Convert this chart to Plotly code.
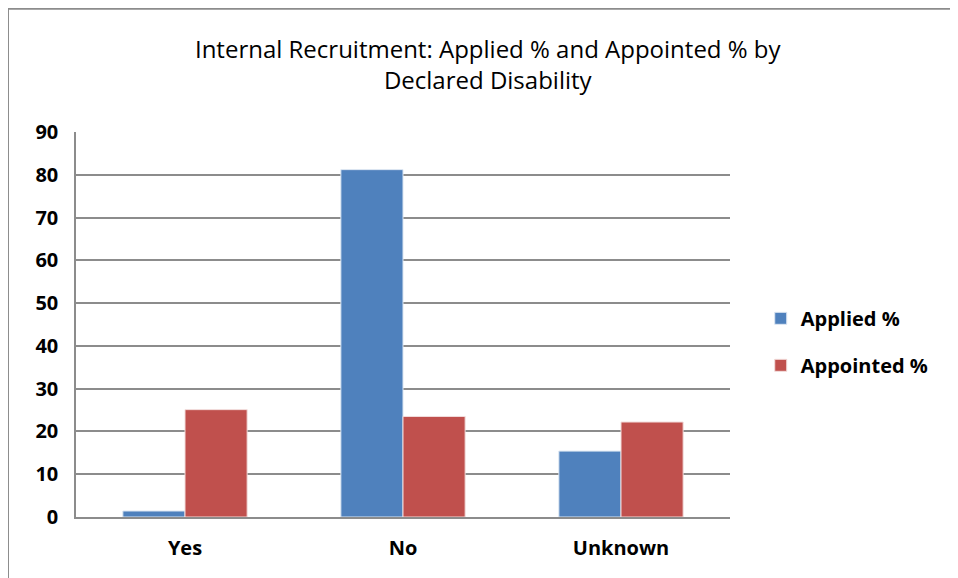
import plotly.graph_objects as go

# categories and series
categories = ["Yes", "No", "Unknown"]
applied_pct = [1.4, 81.2, 15.4]
appointed_pct = [25.1, 23.5, 22.2]
y_ticks = [0, 10, 20, 30, 40, 50, 60, 70, 80, 90]

font_family = "Open Sans, Noto Sans, sans-serif"

fig = go.Figure()
fig.add_trace(go.Bar(x=categories, y=applied_pct, name="Applied %", legendgroup="a",
                     marker=dict(color="#4F81BD", line=dict(color="#DCE6F2", width=1))))
fig.add_trace(go.Bar(x=categories, y=appointed_pct, name="Appointed %", legendgroup="b",
                     marker=dict(color="#C0504D", line=dict(color="#F2DCDB", width=1))))

# page body has an 8px margin, so the figure is a bit smaller than the window
fig.update_layout(
    width=950, height=570,
    paper_bgcolor="white", plot_bgcolor="white",
    margin=dict(l=68, r=228, t=124, b=61),
    barmode="group", bargap=0.43, bargroupgap=0,
    title=dict(
        text="Internal Recruitment: Applied % and Appointed % by<br>Declared Disability",
        x=0.505, xanchor="center", y=0.912, yanchor="middle",
        font=dict(family=font_family, size=24, color="black"),
    ),
    legend=dict(
        x=1.047, y=0.455, xanchor="left", yanchor="middle",
        font=dict(family=font_family, size=20, color="black", weight="bold"),
        tracegroupgap=18, itemwidth=30,
    ),
    font=dict(family=font_family, color="black"),
)

fig.update_yaxes(
    range=[0, 90], tickvals=y_ticks,
    showgrid=True, gridcolor="#8C8C8C", gridwidth=1.5,
    showline=True, linecolor="#8C8C8C", linewidth=1.5,
    ticks="", ticklabelstandoff=12,
    tickfont=dict(family=font_family, size=20, color="black", weight="bold"),
    zeroline=False,
)
fig.update_xaxes(
    showline=True, linecolor="#8C8C8C", linewidth=1.5,
    ticks="", ticklabelstandoff=12,
    tickfont=dict(family=font_family, size=20, color="black", weight="bold"),
)

# outer chart frame (left and top edges visible, the rest runs off the page)
fig.add_shape(type="rect", xref="paper", yref="paper",
              x0=-0.104, x1=1.4, y0=-0.2, y1=1.32,
              line=dict(color="#8C8C8C", width=2), layer="below")

fig.write_html("out.html")
